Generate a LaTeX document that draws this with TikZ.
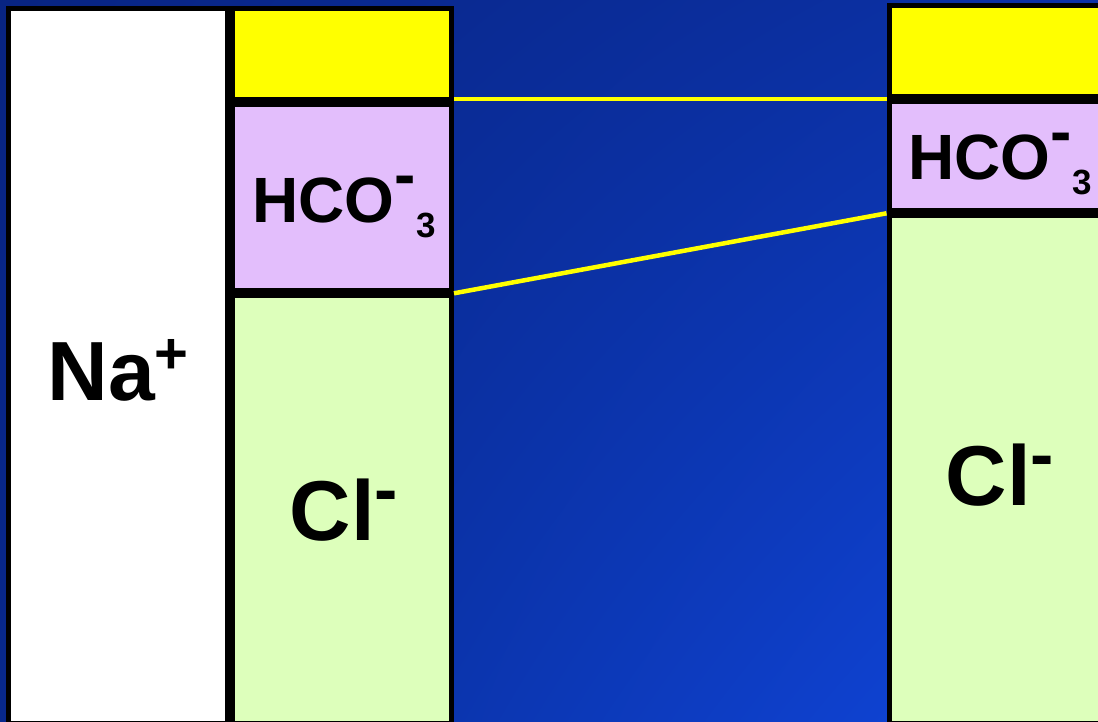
\documentclass[tikz,border=0pt]{standalone}
\usepackage{fontspec}
\setmainfont{Liberation Sans}
\usepackage{xcolor}
\usepackage{tikz}
\usetikzlibrary{positioning, calc, shadings}
\definecolor{ionyellow}{RGB}{255,255,0}
\definecolor{ionlilac}{RGB}{227,190,252}
\definecolor{iongreen}{RGB}{221,255,187}
\definecolor{bgUL}{RGB}{8,36,130}
\definecolor{bgUR}{RGB}{12,50,168}
\definecolor{bgLL}{RGB}{8,40,140}
\definecolor{bgLR}{RGB}{16,72,225}
\newcommand{\NaFont}{\fontsize{84}{84}\selectfont\bfseries}
\newcommand{\ClFont}{\fontsize{85}{85}\selectfont\bfseries}
\newcommand{\HcoFont}{\fontsize{64}{64}\selectfont\bfseries}
\newcommand{\HcoIon}{\HcoFont HCO\raisebox{26pt}{-}\raisebox{-15pt}{\fontsize{35}{35}\selectfont 3}}
\newcommand{\ClIon}{\ClFont Cl\raisebox{27pt}{\fontsize{70}{70}\selectfont -}}

\begin{document}
\begin{tikzpicture}[
  x=1pt, y=-1pt,
  col/.style={draw=black, line width=5pt, minimum width=219pt, inner sep=0pt, anchor=north west},
  ion/.style={anchor=base, inner sep=0pt, text=black},
  link/.style={draw=ionyellow, line width=4.5pt},
  node distance=0pt
]
\useasboundingbox (0,0) rectangle (1098,722);
\clip (0,0) rectangle (1098,722);
\shade[upper left=bgUL, upper right=bgUR, lower left=bgLL, lower right=bgLR] (0,0) rectangle (1098,722);
\node[col, fill=white, minimum height=715pt] (na) at (6,6) {};
\node[col, fill=ionyellow, minimum height=91pt, right=0pt of na.north east, anchor=north west] (yl) {};
\node[col, fill=ionlilac, minimum height=186.3pt, below=of yl] (hl) {};
\node[col, fill=iongreen, minimum height=427.7pt, below=of hl] (cl) {};
\node[col, fill=ionyellow, minimum width=222pt, minimum height=90.7pt] (yr) at (886.5,3.3) {};
\node[col, fill=ionlilac, minimum width=222pt, minimum height=109.3pt, below=of yr] (hr) {};
\node[col, fill=iongreen, minimum width=222pt, minimum height=507.7pt, below=of hr] (cr) {};
\draw[link] (yl.south east |- yr.south west) -- (yr.south west);
\draw[link] (hl.south east) -- (hr.south west);
\node[ion] (nalabel) at ($(na.center)+(0,34)$) {\NaFont Na\raisebox{27pt}{\fontsize{58}{58}\selectfont +}};
\node[ion] (hcoleft) at ($(hl.center)+(2,25)$) {\HcoIon};
\node[ion] (clleft) at ($(cl.center)+(2,31)$) {\ClIon};
\node[ion] (hcoright) at ($(hr.center)+(0,23)$) {\HcoIon};
\node[ion] (clright) at ($(cr.center)+(0,36)$) {\ClIon};
\end{tikzpicture}
\end{document}
